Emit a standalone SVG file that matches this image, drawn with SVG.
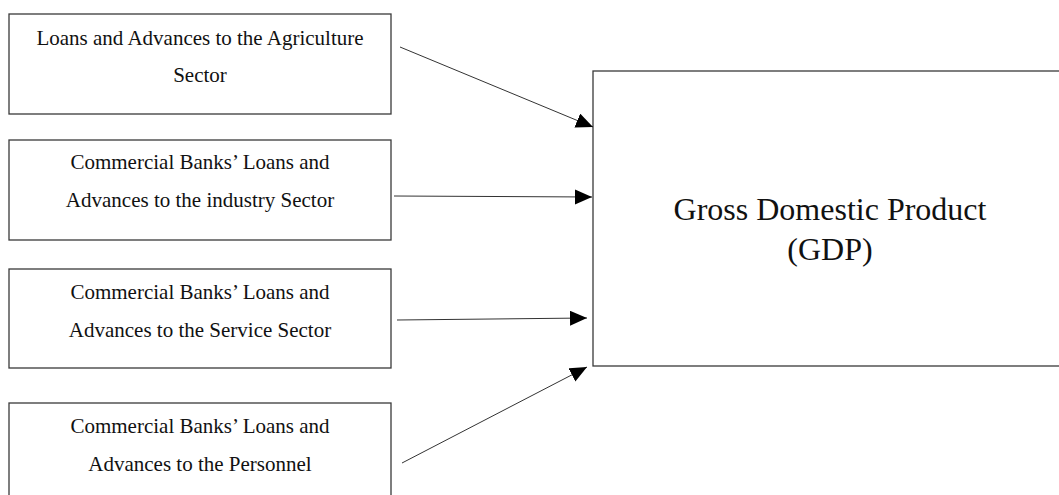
<svg xmlns="http://www.w3.org/2000/svg" width="1059" height="495" viewBox="0 0 1059 495">
<style>
.box{fill:#fff;stroke:#3a3a3a;stroke-width:1.3}
.lbl{font-family:"Liberation Serif","Times New Roman",serif;font-size:21px;fill:#111;text-anchor:middle}
.big{font-family:"Liberation Serif","Times New Roman",serif;font-size:32px;fill:#111;text-anchor:middle}
.con{stroke:#333;stroke-width:1;fill:none;marker-end:url(#ah)}
</style>
<defs>
<marker id="ah" markerUnits="userSpaceOnUse" markerWidth="18" markerHeight="16" refX="17" refY="7.5" orient="auto">
<path d="M0,0 L17,7.5 L0,15 Z" fill="#000"/>
</marker>
</defs>
<rect width="1059" height="495" fill="#fff"/>
<g id="n1">
<rect class="box" x="9" y="14" width="382" height="100"/>
<text class="lbl" x="200" y="45">Loans and Advances to the Agriculture</text>
<text class="lbl" x="200" y="82">Sector</text>
</g>
<g id="n2">
<rect class="box" x="9" y="140" width="382" height="100"/>
<text class="lbl" x="200" y="169">Commercial Banks’ Loans and</text>
<text class="lbl" x="200" y="207">Advances to the industry Sector</text>
</g>
<g id="n3">
<rect class="box" x="9" y="269" width="382" height="99"/>
<text class="lbl" x="200" y="299">Commercial Banks’ Loans and</text>
<text class="lbl" x="200" y="337">Advances to the Service Sector</text>
</g>
<g id="n4">
<rect class="box" x="9" y="403" width="382" height="100"/>
<text class="lbl" x="200" y="433">Commercial Banks’ Loans and</text>
<text class="lbl" x="200" y="471">Advances to the Personnel</text>
</g>
<g id="gdp">
<rect class="box" x="593" y="71" width="470" height="295"/>
<text class="big" x="830" y="220">Gross Domestic Product</text>
<text class="big" x="830" y="260">(GDP)</text>
</g>
<g id="connectors">
<line class="con" x1="400" y1="47" x2="593" y2="127"/>
<line class="con" x1="394" y1="196" x2="592" y2="197"/>
<line class="con" x1="397" y1="320" x2="587" y2="318"/>
<line class="con" x1="402" y1="463" x2="587" y2="367"/>
</g>
</svg>
